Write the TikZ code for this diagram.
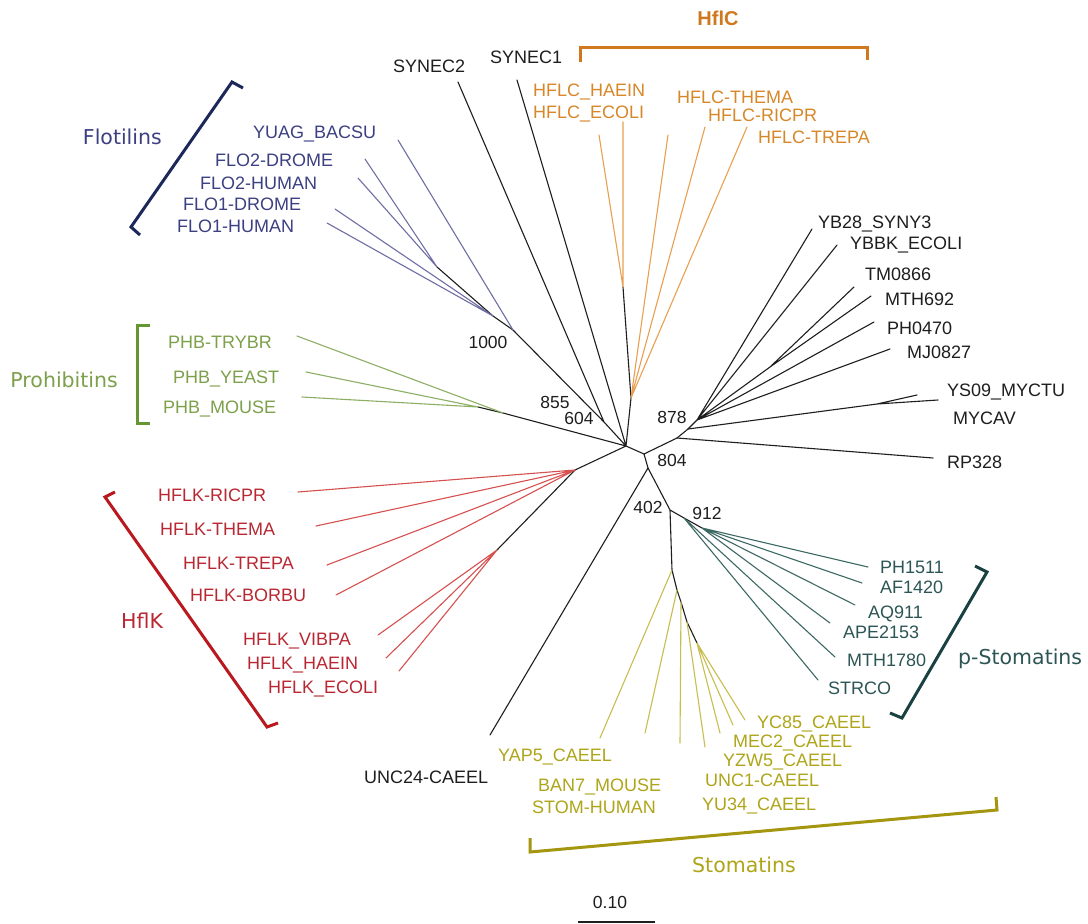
\documentclass[tikz,border=0pt]{standalone}
\usepackage{fontspec}
\setmainfont{Liberation Sans}
\newfontfamily\grpfont{DejaVu Sans}
\definecolor{blk}{RGB}{30,30,30}
\definecolor{floL}{RGB}{110,110,165}
\definecolor{floT}{RGB}{60,64,130}
\definecolor{floB}{RGB}{28,40,90}
\definecolor{hcL}{RGB}{232,160,80}
\definecolor{hcT}{RGB}{215,135,40}
\definecolor{hcB}{RGB}{208,120,30}
\definecolor{phL}{RGB}{140,175,100}
\definecolor{phT}{RGB}{125,160,75}
\definecolor{phB}{RGB}{100,150,50}
\definecolor{hkL}{RGB}{215,80,80}
\definecolor{hkT}{RGB}{185,40,50}
\definecolor{hkB}{RGB}{185,25,30}
\definecolor{stL}{RGB}{200,190,80}
\definecolor{stT}{RGB}{175,165,25}
\definecolor{stB}{RGB}{165,150,15}
\definecolor{psL}{RGB}{60,105,100}
\definecolor{psT}{RGB}{45,85,85}
\definecolor{psB}{RGB}{25,65,65}
\begin{document}
\begin{tikzpicture}[x=1pt,y=-1pt,
  lbl/.style={font=\fontsize{18}{20}\selectfont, inner sep=0pt, text height=12.9pt, text depth=0pt, anchor=west},
  grp/.style={font=\grpfont\fontsize{20.5}{24}\selectfont, inner sep=0pt, text height=15pt, text depth=0pt},
  boot/.style={font=\fontsize{17.5}{20}\selectfont, inner sep=0pt, text height=12.5pt, text depth=0pt, text=blk},
  br/.style={line width=1.1pt, line cap=round, line join=round},
  brk/.style={line width=3pt, line join=miter},
]
\useasboundingbox (0,0) rectangle (1088,924);
\fill[white] (0,0) rectangle (1088,924);

% ---------- internal nodes ----------
\coordinate (C1) at (626,446);
\coordinate (C2) at (644,454);
\coordinate (Na) at (604,422);
\coordinate (F0) at (513,330);
\coordinate (F1) at (493,316);
\coordinate (F2) at (437,267);
\coordinate (H1) at (623,287);
\coordinate (HC) at (631,398);
\coordinate (P0) at (503,413);
\coordinate (P1) at (478,407);
\coordinate (K0) at (575,470);
\coordinate (K1) at (497,550);
\coordinate (R0) at (677,438);
\coordinate (Nm) at (688,429);
\coordinate (N878) at (697,420);
\coordinate (TMn) at (770,367);
\coordinate (MY0) at (877,404);
\coordinate (N804) at (648,468);
\coordinate (S0) at (670,510);
\coordinate (S1) at (672,570);
\coordinate (S2) at (677,590);
\coordinate (S3) at (681,602);
\coordinate (S3b) at (687,622);
\coordinate (S4) at (697,643);
\coordinate (Q0) at (684,518);
\coordinate (Q1) at (702,528);

% ---------- tips ----------
\coordinate (tYUAG) at (398,140);
\coordinate (tFLO2D) at (365,159);
\coordinate (tFLO2H) at (358,178);
\coordinate (tFLO1D) at (335,209);
\coordinate (tFLO1H) at (327,223);
\coordinate (tSYN2) at (458,82);
\coordinate (tSYN1) at (517,80);
\coordinate (tHAE) at (599,135);
\coordinate (tECO) at (623,122);
\coordinate (tTHE) at (668,135);
\coordinate (tRIC) at (705,127);
\coordinate (tTRE) at (747,127);
\coordinate (tTRY) at (297,336);
\coordinate (tYEA) at (306,372);
\coordinate (tMOU) at (302,397);
\coordinate (tkRIC) at (298,492);
\coordinate (tkTHE) at (316,526);
\coordinate (tkTRE) at (327,565);
\coordinate (tkBOR) at (336,595);
\coordinate (tkVIB) at (378,635);
\coordinate (tkHAE) at (386,658);
\coordinate (tkECO) at (399,671);
\coordinate (tUNC24) at (490,735);
\coordinate (tYAP5) at (600,738);
\coordinate (tBAN7) at (645,733);
\coordinate (tSTOM) at (680,743);
\coordinate (tUNC1) at (705,747);
\coordinate (tYZW5) at (720,733);
\coordinate (tMEC2) at (733,725);
\coordinate (tYC85) at (745,720);
\coordinate (tPH15) at (868,567);
\coordinate (tAF14) at (862,583);
\coordinate (tAQ9) at (855,605);
\coordinate (tAPE) at (830,623);
\coordinate (tMTH17) at (835,657);
\coordinate (tSTR) at (818,680);
\coordinate (tYB28) at (812,229);
\coordinate (tYBBK) at (837,245);
\coordinate (tTM) at (854,287);
\coordinate (tMTH6) at (871,296);
\coordinate (tPH04) at (874,322);
\coordinate (tMJ) at (890,349);
\coordinate (tYS09) at (938,400);
\coordinate (tMYC) at (917,395);
\coordinate (tRP) at (933,458);

% ---------- branches ----------
% backbone
\draw[br,blk] (C1) -- (C2) (Na) -- (C1) (F0) -- (Na) (tSYN2) -- (Na) (tSYN1) -- (C1)
  (HC) -- (C1) (H1) -- (HC) (P0) -- (C1) (K0) -- (C1)
  (C2) -- (R0) -- (Nm) -- (N878) (C2) -- (N804) -- (S0)
  (F1) -- (F0) (F2) -- (F1) (P1) -- (P0) (K1) -- (K0)
  (S0) -- (S1) -- (S2) -- (S3) -- (S3b) -- (S4) (S0) -- (Q0) -- (Q1);
% flotilins
\draw[br,floL] (F0) -- (tYUAG) (F2) -- (tFLO2D) (F2) -- (tFLO2H) (F1) -- (tFLO1D) (F1) -- (tFLO1H);
% HflC
\draw[br,hcL] (H1) -- (tHAE) (H1) -- (tECO) (HC) -- (tTHE) (HC) -- (tRIC) (HC) -- (tTRE);
% prohibitins
\draw[br,phL] (P0) -- (tTRY) (P1) -- (tYEA) (P1) -- (tMOU);
% HflK
\draw[br,hkL] (K0) -- (tkRIC) (K0) -- (tkTHE) (K0) -- (tkTRE) (K0) -- (tkBOR)
  (K1) -- (tkVIB) (K1) -- (tkHAE) (K1) -- (tkECO);
% right black cluster
\draw[br,blk] (N804) -- (tUNC24) (R0) -- (tRP) (Nm) -- (MY0) (MY0) -- (tYS09) (MY0) -- (tMYC)
  (N878) -- (tYB28) (N878) -- (tYBBK) (N878) -- (TMn) (TMn) -- (tTM) (TMn) -- (tMTH6)
  (N878) -- (tPH04) (N878) -- (tMJ);
% stomatins
\draw[br,stL] (S1) -- (tYAP5) (S2) -- (tBAN7) (S3) -- (tSTOM) (S3b) -- (tUNC1)
  (S4) -- (tYZW5) (S4) -- (tMEC2) (S4) -- (tYC85);
% p-stomatins
\draw[br,psL] (Q0) -- (tSTR) (Q0) -- (tMTH17) (Q1) -- (tAPE) (Q1) -- (tAQ9) (Q1) -- (tAF14) (Q1) -- (tPH15);

% ---------- leaf labels ----------
\node[lbl,text=floT] (lYUAG) at (253,132) {YUAG\_BACSU};
\node[lbl,text=floT] (lFLO2D) at (215,160) {FLO2-DROME};
\node[lbl,text=floT] (lFLO2H) at (200,183) {FLO2-HUMAN};
\node[lbl,text=floT] (lFLO1D) at (183,204) {FLO1-DROME};
\node[lbl,text=floT] (lFLO1H) at (177,226) {FLO1-HUMAN};
\node[lbl,text=blk] (lSYN2) at (393,66) {SYNEC2};
\node[lbl,text=blk] (lSYN1) at (490,57) {SYNEC1};
\node[lbl,text=hcT] (lHAE) at (533,90) {HFLC\_HAEIN};
\node[lbl,text=hcT] (lECO) at (533,112) {HFLC\_ECOLI};
\node[lbl,text=hcT] (lTHE) at (677,97) {HFLC-THEMA};
\node[lbl,text=hcT] (lRIC) at (708,115) {HFLC-RICPR};
\node[lbl,text=hcT] (lTRE) at (758,137) {HFLC-TREPA};
\node[lbl,text=phT] (lTRY) at (168,342) {PHB-TRYBR};
\node[lbl,text=phT] (lYEA) at (173,377) {PHB\_YEAST};
\node[lbl,text=phT] (lMOU) at (163,407) {PHB\_MOUSE};
\node[lbl,text=hkT] (lkRIC) at (158,495) {HFLK-RICPR};
\node[lbl,text=hkT] (lkTHE) at (160,529) {HFLK-THEMA};
\node[lbl,text=hkT] (lkTRE) at (183,563) {HFLK-TREPA};
\node[lbl,text=hkT] (lkBOR) at (190,595) {HFLK-BORBU};
\node[lbl,text=hkT] (lkVIB) at (243,639) {HFLK\_VIBPA};
\node[lbl,text=hkT] (lkHAE) at (247,663) {HFLK\_HAEIN};
\node[lbl,text=hkT] (lkECO) at (268,687) {HFLK\_ECOLI};
\node[lbl,text=blk] (lUNC24) at (364,777) {UNC24-CAEEL};
\node[lbl,text=stT] (lYAP5) at (498,755) {YAP5\_CAEEL};
\node[lbl,text=stT] (lBAN7) at (538,785) {BAN7\_MOUSE};
\node[lbl,text=stT] (lSTOM) at (532,807) {STOM-HUMAN};
\node[lbl,text=stT] (lYC85) at (757,722) {YC85\_CAEEL};
\node[lbl,text=stT] (lMEC2) at (733,741) {MEC2\_CAEEL};
\node[lbl,text=stT] (lYZW5) at (723,760) {YZW5\_CAEEL};
\node[lbl,text=stT] (lUNC1) at (705,780) {UNC1-CAEEL};
\node[lbl,text=stT] (lYU34) at (702,804) {YU34\_CAEEL};
\node[lbl,text=psT] (lPH15) at (880,567) {PH1511};
\node[lbl,text=psT] (lAF14) at (880,587) {AF1420};
\node[lbl,text=psT] (lAQ9) at (868,612) {AQ911};
\node[lbl,text=psT] (lAPE) at (843,632) {APE2153};
\node[lbl,text=psT] (lMTH17) at (847,660) {MTH1780};
\node[lbl,text=psT] (lSTR) at (828,688) {STRCO};
\node[lbl,text=blk] (lYB28) at (818,222) {YB28\_SYNY3};
\node[lbl,text=blk] (lYBBK) at (850,243) {YBBK\_ECOLI};
\node[lbl,text=blk] (lTM) at (865,274) {TM0866};
\node[lbl,text=blk] (lMTH6) at (885,299) {MTH692};
\node[lbl,text=blk] (lPH04) at (887,328) {PH0470};
\node[lbl,text=blk] (lMJ) at (907,352) {MJ0827};
\node[lbl,text=blk] (lYS09) at (947,390) {YS09\_MYCTU};
\node[lbl,text=blk] (lMYC) at (953,418) {MYCAV};
\node[lbl,text=blk] (lRP) at (947,462) {RP328};

% ---------- bootstrap values ----------
\node[boot] (b1000) at (488,342) {1000};
\node[boot] (b855) at (555,402) {855};
\node[boot] (b604) at (579,418) {604};
\node[boot] (b878) at (672,417) {878};
\node[boot] (b804) at (672,460) {804};
\node[boot] (b402) at (648,507) {402};
\node[boot] (b912) at (707,513) {912};

% ---------- group brackets ----------
\draw[brk,floB] (243,88) -- (232,82) -- (131,227) -- (140,235);
\node[grp,text=floT,anchor=east] (gFlo) at (162,137) {Flotilins};
\draw[brk,hcB] (580,62) -- (580,47) -- (867,47) -- (867,60);
\node[font=\bfseries\fontsize{20}{24}\selectfont, inner sep=0pt, text height=14.5pt, text depth=0pt, text=hcB] (gHflC) at (718,18) {HflC};
\draw[brk,phB] (150,325) -- (137,325) -- (137,423) -- (150,423);
\node[grp,text=phT,anchor=east] (gPhb) at (118,380) {Prohibitins};
\draw[brk,hkB] (115,492) -- (105,497) -- (267,727) -- (278,723);
\node[grp,text=hkT,anchor=west] (gHflK) at (121,621) {HflK};
\draw[brk,psB] (975,566) -- (987,572) -- (902,718) -- (890,713);
\node[grp,text=psT,anchor=west] (gPst) at (958,657) {p-Stomatins};
\draw[brk,stB] (530,838) -- (530,852) -- (997,810) -- (996,797);
\node[grp,text=stT,anchor=west] (gSto) at (692,865) {Stomatins};

% ---------- scale bar ----------
\draw[line width=2pt,blk] (578,922) -- (655,922);
\node[boot] (scl) at (610,902) {0.10};
\end{tikzpicture}
\end{document}
